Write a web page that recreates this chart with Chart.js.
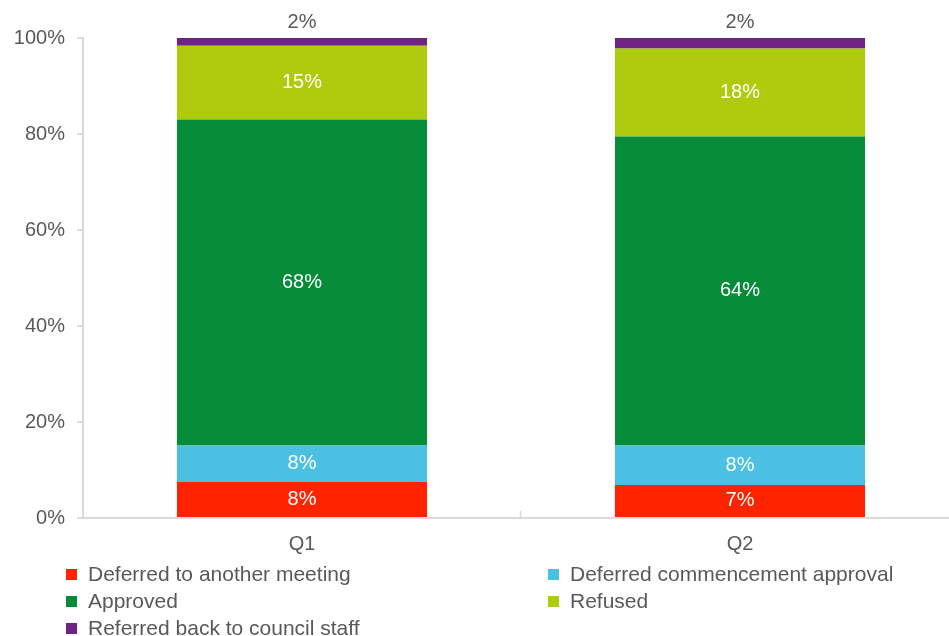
<!DOCTYPE html>
<html>
<head>
<meta charset="utf-8">
<script src="https://cdn.jsdelivr.net/npm/chart.js@4.4.1/dist/chart.umd.min.js"></script>
<style>
  html, body { margin: 0; padding: 0; background: #fff; overflow: hidden; }
  #wrap { width: 949px; height: 636px; overflow: hidden; }
</style>
</head>
<body>
<div id="wrap"><canvas id="grafico" width="959" height="636"></canvas></div>
<script>
// datos
var categorias = ["Q1", "Q2"];
var series = ["Deferred to another meeting", "Deferred commencement approval", "Approved", "Refused", "Referred back to council staff"];
var diferidaReunion = [7.5, 6.9];
var diferidaInicio = [7.6, 8.2];
var aprobada = [67.9, 64.4];
var rechazada = [15.4, 18.3];
var remitida = [1.6, 2.2];
var ticksY = [0, 20, 40, 60, 80, 100];
var colores = ["#ff2300", "#4bc0e2", "#068b38", "#afcb0e", "#6e2480"];

var fuente = "'Liberation Sans', Arial, sans-serif";
var gris = "#595959";
var lineaEje = "#d9d9d9";

var valores = [diferidaReunion, diferidaInicio, aprobada, rechazada, remitida];

// etiquetas de valor dentro de cada segmento
var etiquetasPlugin = {
    id: "etiquetas",
    afterDatasetsDraw: function (chart) {
        var ctx = chart.ctx;
        ctx.save();
        ctx.font = "20px " + fuente;
        ctx.textAlign = "center";
        ctx.textBaseline = "middle";
        chart.data.datasets.forEach(function (ds, i) {
            var meta = chart.getDatasetMeta(i);
            meta.data.forEach(function (bar, j) {
                var txt = Math.round(ds.data[j]) + "%";
                if (i === chart.data.datasets.length - 1) {
                    ctx.fillStyle = gris;
                    ctx.fillText(txt, bar.x, bar.y - 16);
                } else {
                    ctx.fillStyle = "#ffffff";
                    ctx.fillText(txt, bar.x, (bar.y + bar.base) / 2);
                }
            });
        });
        ctx.restore();
    }
};

// marca entre categorias y leyenda de dos columnas
var extrasPlugin = {
    id: "extras",
    afterDraw: function (chart) {
        var ctx = chart.ctx;
        var area = chart.chartArea;
        var xs = chart.scales.x;
        ctx.save();
        var medio = Math.round((xs.getPixelForValue(0) + xs.getPixelForValue(1)) / 2) - 0.5;
        ctx.strokeStyle = lineaEje;
        ctx.lineWidth = 1.5;
        ctx.beginPath();
        ctx.moveTo(medio, area.bottom);
        ctx.lineTo(medio, area.bottom - 7);
        ctx.stroke();

        ctx.font = "21px " + fuente;
        ctx.textBaseline = "middle";
        ctx.textAlign = "left";
        var colX = [66, 548];
        var filaY = [574, 601, 628];
        chart.data.datasets.forEach(function (ds, i) {
            var x = colX[i % 2];
            var y = filaY[Math.floor(i / 2)];
            ctx.fillStyle = ds.backgroundColor;
            ctx.fillRect(x, y - 5, 11, 11);
            ctx.fillStyle = gris;
            ctx.fillText(ds.label, x + 22, y + 1);
        });
        ctx.restore();
    }
};

var ctx1 = document.getElementById("grafico").getContext("2d");
window.myBar = new Chart(ctx1, {
    type: "bar",
    data: {
        labels: categorias,
        datasets: series.map(function (nombre, i) {
            return {
                label: nombre,
                data: valores[i],
                backgroundColor: colores[i],
                borderWidth: 0,
                barPercentage: 1,
                categoryPercentage: 0.571
            };
        })
    },
    options: {
        responsive: false,
        animation: false,
        layout: { padding: { top: 38, right: 0, bottom: 68, left: 0 } },
        plugins: {
            legend: { display: false },
            tooltip: { enabled: false }
        },
        scales: {
            x: {
                stacked: true,
                grid: { display: false },
                border: { display: true, color: lineaEje, width: 2 },
                ticks: { color: gris, font: { family: fuente, size: 20 }, padding: 6 },
                afterFit: function (scale) { scale.height = 50; }
            },
            y: {
                stacked: true,
                min: 0,
                max: 100,
                afterBuildTicks: function (scale) {
                    scale.ticks = ticksY.map(function (v) { return { value: v }; });
                },
                grid: { drawOnChartArea: false, drawTicks: true, tickLength: 6, color: lineaEje, lineWidth: 2 },
                border: { display: true, color: lineaEje, width: 2 },
                ticks: {
                    color: gris,
                    font: { family: fuente, size: 20 },
                    padding: 12,
                    callback: function (v) { return v + "%"; }
                },
                afterFit: function (scale) { scale.width = 83; }
            }
        }
    },
    plugins: [etiquetasPlugin, extrasPlugin]
});
</script>
</body>
</html>
